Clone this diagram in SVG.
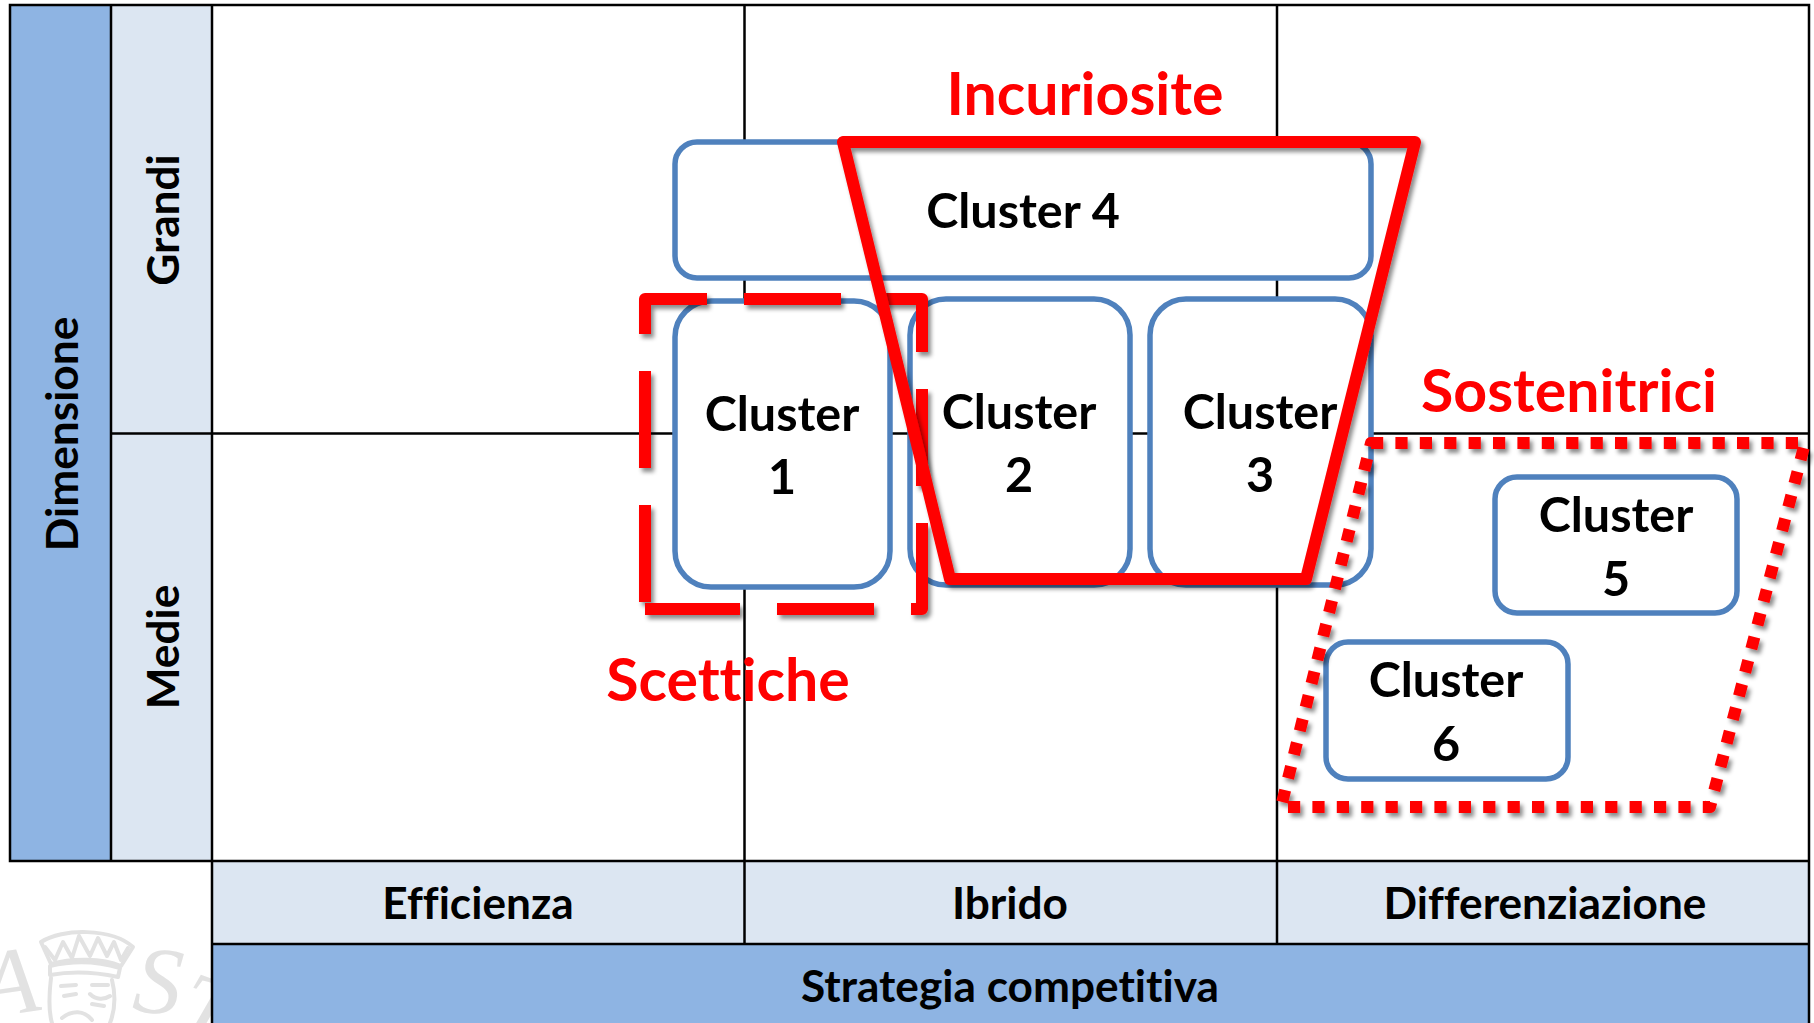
<svg xmlns="http://www.w3.org/2000/svg" width="1814" height="1023" viewBox="0 0 1814 1023">
<style>
.dark{fill:#8EB4E3}
.light{fill:#DCE6F2}
.grid{stroke:#000;stroke-width:2.5;fill:none}
.box{fill:#fff;stroke:#4F81BD;stroke-width:5.500}
text{font-family:"Lato","Carlito","Liberation Sans",sans-serif;font-weight:700;text-anchor:middle;fill:#000;font-variant-ligatures:none}
.cl{font-size:48.500px}
.ax{font-size:44.200px}
.red{font-size:59px;fill:#FF0000}
.wm{font-family:"Liberation Serif",serif;font-weight:400;font-style:italic;fill:#E2E2E2;font-size:96px}
.hl{fill:none;stroke:#FF0000;stroke-width:12;stroke-linejoin:round;filter:url(#sh)}
.wml{fill:none;stroke:#E2E2E2;stroke-width:4;stroke-linejoin:round;stroke-linecap:round}
</style>
<defs>
<filter id="sh" x="-10%" y="-10%" width="120%" height="120%"><feDropShadow dx="3" dy="4" stdDeviation="2.2" flood-color="#000" flood-opacity="0.45"/></filter>
</defs>
<rect width="1814" height="1023" fill="#fff"/>
<g id="watermark">
<path class="wml" d="M41 942C62 928 112 928 133 947L121 966C102 958 72 958 51 964Z"/>
<path class="wml" d="M45 947L55 960L63 942L72 958L79 936L90 956L98 938L107 956L114 942L121 960L128 948"/>
<path class="wml" stroke-width="6" d="M50 966C75 960 100 962 120 968L118 977C95 972 72 971 50 975Z"/>
<path class="wml" stroke-width="6" d="M51 978C49 995 48 1010 52 1023M112 980C116 996 115 1010 110 1023"/>
<path class="wml" stroke-width="5" d="M61 986L76 985M92 985L108 985M64 996L76 994M90 994C96 1000 104 1000 110 996M92 1004L104 1006M62 1018C72 1010 84 1010 92 1020"/>
<text class="wm" x="13" y="1014" transform="rotate(-8 13 1014)">A</text>
<text class="wm" x="155" y="1013" transform="rotate(6 155 1013)">S</text>
<text class="wm" x="196" y="1040" transform="rotate(20 196 1040)">T</text>
</g>
<g id="axes">
<rect class="dark" x="10" y="5" width="101" height="856"/>
<rect class="light" x="111" y="5" width="101" height="856"/>
<rect class="light" x="212" y="861" width="1597" height="83"/>
<rect class="dark" x="212" y="944" width="1597" height="79"/>
</g>
<g id="grid">
<path class="grid" d="M10 5H1809V861H10ZM111 5V861M212 5V1023M744.5 5V944M1277 5V944M111 433.500H1809M212 944H1809M1809 861V1023"/>
</g>
<g id="axis-labels">
<text class="ax" x="0" y="0" transform="translate(78 434) rotate(-90)">Dimensione</text>
<text class="ax" x="0" y="0" transform="translate(179 220) rotate(-90)">Grandi</text>
<text class="ax" x="0" y="0" transform="translate(179 647) rotate(-90)">Medie</text>
<text class="ax" x="478" y="919">Efficienza</text>
<text class="ax" x="1010" y="919">Ibrido</text>
<text class="ax" x="1545" y="919">Differenziazione</text>
<text class="ax" x="1010" y="1002">Strategia competitiva</text>
</g>
<g id="cluster-4"><rect class="box" x="675" y="142" width="696" height="136" rx="22"/><text class="cl" x="1023" y="228">Cluster 4</text></g>
<g id="cluster-1"><rect class="box" x="675" y="301" width="215" height="286" rx="36"/><text class="cl" x="782" y="431">Cluster</text><text class="cl" x="782" y="494">1</text></g>
<g id="cluster-2"><rect class="box" x="910" y="299" width="220" height="286" rx="36"/><text class="cl" x="1019" y="429">Cluster</text><text class="cl" x="1019" y="492">2</text></g>
<g id="cluster-3"><rect class="box" x="1150" y="299" width="221" height="286" rx="36"/><text class="cl" x="1260" y="429">Cluster</text><text class="cl" x="1260" y="492">3</text></g>
<g id="cluster-5"><rect class="box" x="1495" y="477" width="242" height="136" rx="22"/><text class="cl" x="1616" y="532">Cluster</text><text class="cl" x="1616" y="596">5</text></g>
<g id="cluster-6"><rect class="box" x="1326" y="642" width="242" height="137" rx="22"/><text class="cl" x="1446" y="697">Cluster</text><text class="cl" x="1446" y="761">6</text></g>
<g id="connectors">
<path id="scettiche-outline" class="hl" stroke-dasharray="97 37" stroke-dashoffset="127" d="M645 609V299H922V609Z"/>
<path id="incuriosite-outline" class="hl" d="M843 142H1415L1306 579H950Z"/>
<path id="sostenitrici-outline" class="hl" stroke-dasharray="12.200 12.200" d="M1371 443H1805L1710 807H1281Z"/>
</g>
<g id="group-labels">
<text class="red" x="1085" y="115">Incuriosite</text>
<text class="red" x="1569" y="412">Sostenitrici</text>
<text class="red" x="728" y="701">Scettiche</text>
</g>
</svg>
